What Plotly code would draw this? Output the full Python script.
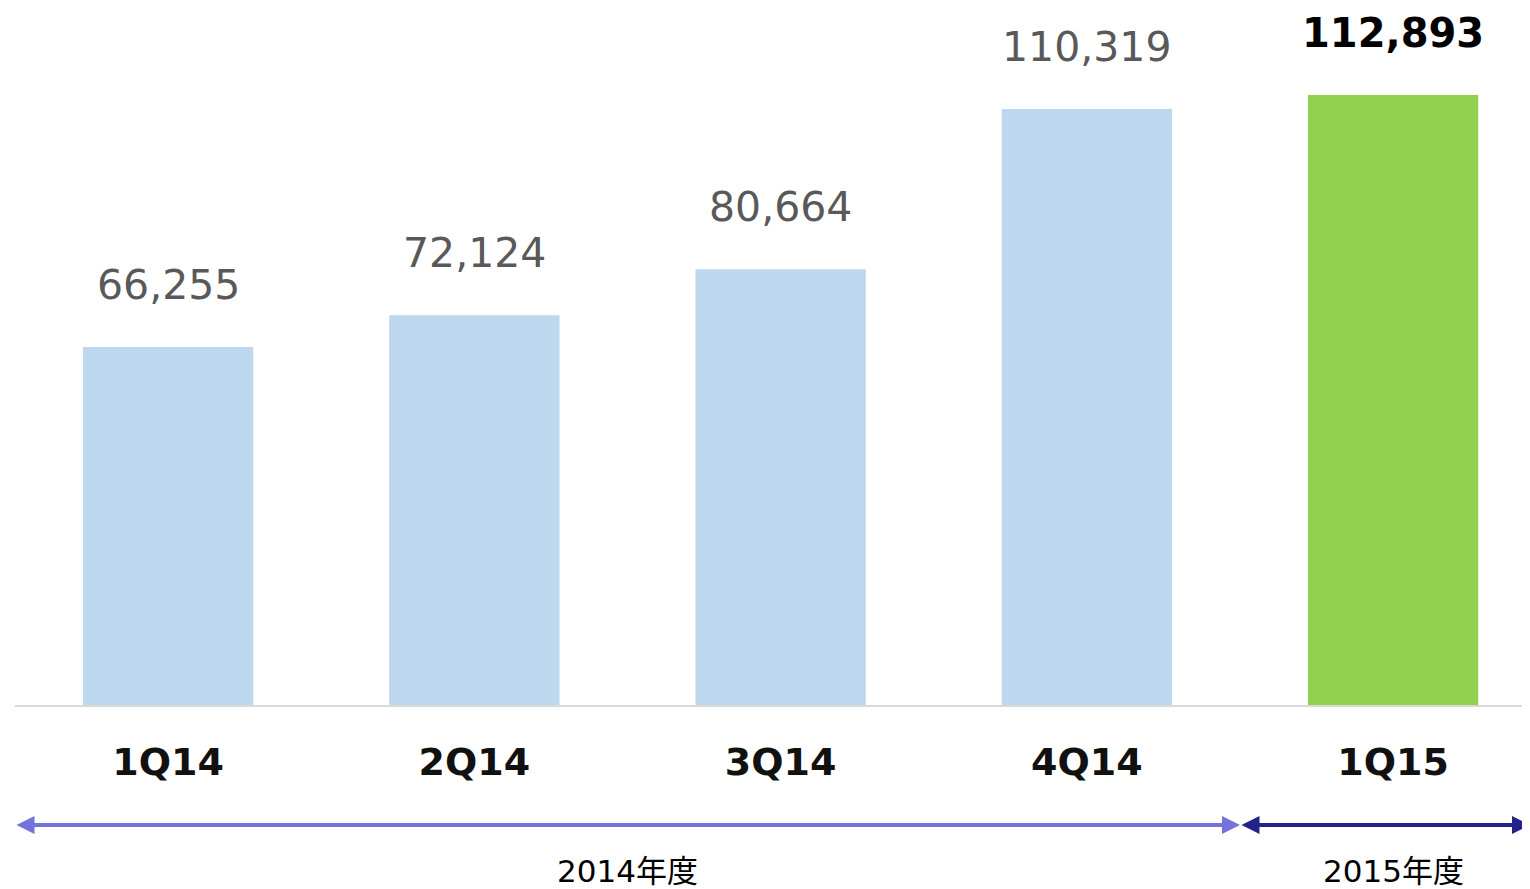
import plotly.graph_objects as go

categories = ["1Q14", "2Q14", "3Q14", "4Q14", "1Q15"]
values = [66255, 72124, 80664, 110319, 112893]
value_labels = ["66,255", "72,124", "80,664", "110,319", "112,893"]
bar_colors = ["#BDD7EE", "#BDD7EE", "#BDD7EE", "#BDD7EE", "#92D050"]
periods = ["2014年度", "2015年度"]
period_spans = [(-0.5, 3.5), (3.5, 4.447)]
period_centers = [1.5, 4.0]
period_colors = ["#7373DB", "#22228A"]

FONT = "DejaVu Sans, Noto Sans CJK JP, sans-serif"

# page has an 8px body margin: figure is sized to fit the 1530x889 window
W, H = 1522, 881
PLOT_H = 697

fig = go.Figure()
fig.add_trace(go.Bar(
    x=list(range(len(categories))), y=values,
    marker=dict(color=bar_colors, line=dict(width=0)),
    hoverinfo="skip",
))

for i, (v, lab) in enumerate(zip(values, value_labels)):
    last = i == len(values) - 1
    fig.add_annotation(
        x=i, y=v, xref="x", yref="y", text=f"<b>{lab}</b>" if last else lab,
        showarrow=False, yanchor="middle", yshift=62,
        font=dict(family=FONT, size=40 if last else 41, color="#000000" if last else "#595959"),
    )

for (x0, x1), col in zip(period_spans, period_colors):
    fig.add_annotation(
        x=x1, y=-120 / PLOT_H, xref="x", yref="paper",
        ax=x0, ay=0, axref="x", ayref="pixel",
        text="", showarrow=True, arrowhead=2, arrowside="end+start",
        arrowwidth=4, arrowsize=0.9, arrowcolor=col, standoff=0, startstandoff=0,
    )

for xc, name in zip(period_centers, periods):
    fig.add_annotation(
        x=xc, y=-166 / PLOT_H, xref="x", yref="paper",
        text=name, showarrow=False, yanchor="middle",
        font=dict(family=FONT, size=31, color="#000000"),
    )

fig.update_layout(
    width=W, height=H,
    margin=dict(l=7, r=0, t=0, b=H - PLOT_H),
    plot_bgcolor="white", paper_bgcolor="white",
    bargap=0.444, showlegend=False,
    xaxis=dict(
        range=[-0.5, 4.447], tickmode="array",
        tickvals=list(range(len(categories))), ticktext=[f"<b>{c}</b>" for c in categories],
        tickfont=dict(family=FONT, size=38, color="#111111"),
        showline=True, linecolor="#D9D9D9", linewidth=2,
        showgrid=False, zeroline=False, ticks="", ticklabelstandoff=22,
    ),
    yaxis=dict(range=[0, PLOT_H / 0.005403], visible=False, showgrid=False, zeroline=False),
)

fig.write_html("out.html")
